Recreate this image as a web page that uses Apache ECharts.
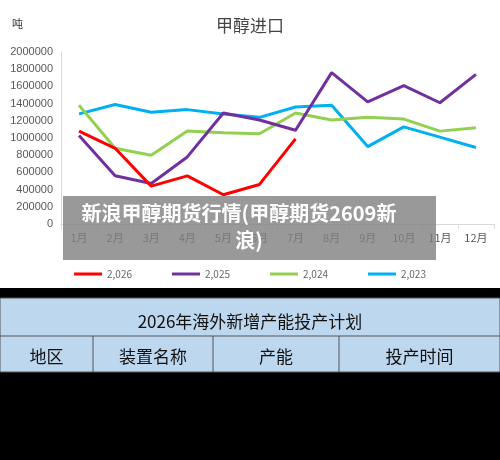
<!DOCTYPE html>
<html><head><meta charset="utf-8">
<script src="https://cdn.jsdelivr.net/npm/echarts@6/dist/echarts.min.js"></script>
<style>html,body{margin:0;padding:0;background:#000}#c{width:500px;height:460px}</style>
</head><body><div id="c"></div>
<script>
var months = ['1月','2月','3月','4月','5月','6月','7月','8月','9月','10月','11月','12月'];
var s2026 = [1080000, 880000, 440000, 560000, 340000, 460000, 990000];
var s2025 = [1030000, 560000, 470000, 780000, 1290000, 1210000, 1090000, 1760000, 1420000, 1610000, 1410000, 1740000];
var s2024 = [1380000, 880000, 800000, 1080000, 1060000, 1050000, 1290000, 1210000, 1240000, 1220000, 1080000, 1120000];
var s2023 = [1280000, 1390000, 1300000, 1330000, 1280000, 1240000, 1360000, 1380000, 900000, 1130000, 1010000, 890000];
var names = ['2,026','2,025','2,024','2,023'];
var colors = ['#ff0000','#7030a0','#92d050','#00b0f0'];
var tableTitle = '2026年海外新增产能投产计划';
var tableHeads = ['地区','装置名称','产能','投产时间'];
var overlayText = ['新浪甲醇期货行情(甲醇期货2609新','浪)'];

var font = '"Noto Sans CJK SC", sans-serif';
var chart = echarts.init(document.getElementById('c'));
var data = [s2026, s2025, s2024, s2023];
var colX = [0, 93, 213, 339, 500];
var g = [
  {type:'rect', z:-10, shape:{x:0,y:0,width:500,height:288}, style:{fill:'#fff'}},
  {type:'text', left:12, top:18, style:{text:'吨', font:'11px '+font, fill:'#333'}},
  {type:'rect', shape:{x:0,y:298,width:500,height:74}, style:{fill:'#bdd7ee', stroke:'#555', lineWidth:1}},
  {type:'line', shape:{x1:0,y1:336,x2:500,y2:336}, style:{stroke:'#555'}},
  {type:'text', x:250, y:322, style:{text:tableTitle, font:'17px '+font, fill:'#111', align:'center', verticalAlign:'middle'}}
];
for (var i=0;i<4;i++){
  if(i>0) g.push({type:'line', shape:{x1:colX[i],y1:336,x2:colX[i],y2:372}, style:{stroke:'#555'}});
  g.push({type:'text', x:(colX[i]+colX[i+1])/2, y:357, style:{text:tableHeads[i], font:'17px '+font, fill:'#111', align:'center', verticalAlign:'middle'}});
}
g.push({type:'rect', z:100, shape:{x:63,y:196,width:373,height:64}, style:{fill:'rgba(128,128,128,0.8)'}});
g.push({type:'text', z:101, x:239, y:213, style:{text:overlayText[0], font:'bold 20px '+font, fill:'#fff', align:'center', verticalAlign:'middle'}});
g.push({type:'text', z:101, x:249, y:240, style:{text:overlayText[1], font:'bold 20px '+font, fill:'#fff', align:'center', verticalAlign:'middle'}});

chart.setOption({
  backgroundColor:'#000',
  animation:false,
  title:{text:'甲醇进口', left:'center', top:12, textStyle:{fontFamily:font, fontSize:17, fontWeight:'normal', color:'#444'}},
  legend:{bottom:176, itemWidth:28, itemHeight:3, itemGap:40, icon:'rect', textStyle:{fontSize:10, color:'#666', fontFamily:font},
    data:names},
  grid:{left:61, right:6, top:52, bottom:236},
  xAxis:{type:'category', data:months, boundaryGap:true,
    axisLine:{lineStyle:{color:'#d9d9d9'}}, axisTick:{show:true, lineStyle:{color:'#d9d9d9'}},
    axisLabel:{color:'#595959', fontSize:11, fontFamily:font, margin:8}},
  yAxis:{type:'value', min:0, max:2000000, interval:200000,
    axisLine:{show:true, lineStyle:{color:'#d9d9d9'}}, splitLine:{show:false},
    axisLabel:{color:'#595959', fontSize:11, fontFamily:'"Liberation Sans", sans-serif', formatter:function(v){return String(v);}}},
  series: data.map(function(d,i){return {name:names[i], type:'line', data:d, symbol:'none',
    lineStyle:{width:3, color:colors[i]}, itemStyle:{color:colors[i]}, z:10-i};}),
  graphic:g
});
</script></body></html>
